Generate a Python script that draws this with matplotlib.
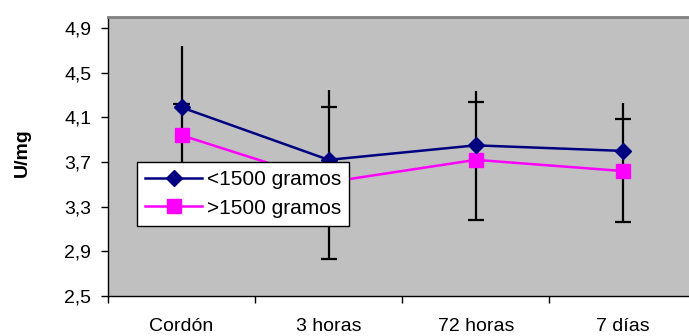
import matplotlib
matplotlib.use("Agg")
import matplotlib.pyplot as plt
from matplotlib.ticker import FixedLocator, NullFormatter

plt.rcParams['font.family'] = ['Liberation Sans', 'DejaVu Sans']

# data
categories = ['Cordón', '3 horas', '72 horas', '7 días']
light_vals = [4.19, 3.72, 3.85, 3.80]      # <1500 gramos
heavy_vals = [3.94, 3.52, 3.72, 3.62]      # >1500 gramos
err_top = [4.74, 4.35, 4.34, 4.23]         # upper end of the bar (no cap)
err_cap = [4.22, 4.19, 4.24, 4.09]         # upper capped value
err_low = [3.66, 2.83, 3.18, 3.16]         # lower capped value
yticks = [2.5, 2.9, 3.3, 3.7, 4.1, 4.5, 4.9]

fig = plt.figure(figsize=(6.89, 3.36), dpi=100)
ax = fig.add_axes([108 / 689, 40 / 336, 581 / 689, 279 / 336])
ax.set_facecolor('#C0C0C0')

x = list(range(len(categories)))

# error bars behind the series
ax.vlines(x, err_low, err_top, color='black', lw=1.6, zorder=2)
cap_w = 0.055
ax.hlines(err_cap, [i - cap_w for i in x], [i + cap_w for i in x], color='black', lw=1.6, zorder=2)
ax.hlines(err_low, [i - cap_w for i in x], [i + cap_w for i in x], color='black', lw=1.6, zorder=2)

ax.plot(x, light_vals, color='#000080', lw=1.8, marker='D', markersize=8,
        label='<1500 gramos', zorder=4)
ax.plot(x, heavy_vals, color='#FF00FF', lw=1.8, marker='s', markersize=10.5,
        label='>1500 gramos', zorder=3)

ax.set_xlim(-0.5, 3.45)
ax.set_ylim(2.5, 5.0)

ax.set_yticks(yticks)
ax.set_yticklabels([f'{v:.1f}'.replace('.', ',') for v in yticks], fontsize=14)
ax.tick_params(axis='y', direction='out', length=5, width=1, pad=7)

# category boundaries as ticks, names centred between them
ax.xaxis.set_major_locator(FixedLocator([-0.5, 0.5, 1.5, 2.5, 3.5]))
ax.xaxis.set_major_formatter(NullFormatter())
ax.xaxis.set_minor_locator(FixedLocator(x))
ax.set_xticklabels(categories, minor=True, fontsize=14)
ax.tick_params(axis='x', which='major', direction='out', length=5, width=1)
ax.tick_params(axis='x', which='minor', length=0, pad=16)

for side in ['left', 'bottom']:
    ax.spines[side].set_color('black')
    ax.spines[side].set_linewidth(1)
ax.spines['top'].set_color('#808080')
ax.spines['top'].set_linewidth(2)
ax.spines['right'].set_visible(False)

fig.text(22 / 689, 1 - 153 / 336, 'U/mg', rotation=90, fontsize=14,
         fontweight='bold', ha='center', va='center')

leg = ax.legend(loc='upper left', bbox_to_anchor=(0.05, 0.48), borderaxespad=0,
                fontsize=15, frameon=True, fancybox=False, framealpha=1,
                edgecolor='black', handlelength=2.7, handletextpad=0.25,
                borderpad=0.4, labelspacing=0.45)
leg.get_frame().set_linewidth(1)

fig.savefig('out.png', dpi=100, facecolor='white')
